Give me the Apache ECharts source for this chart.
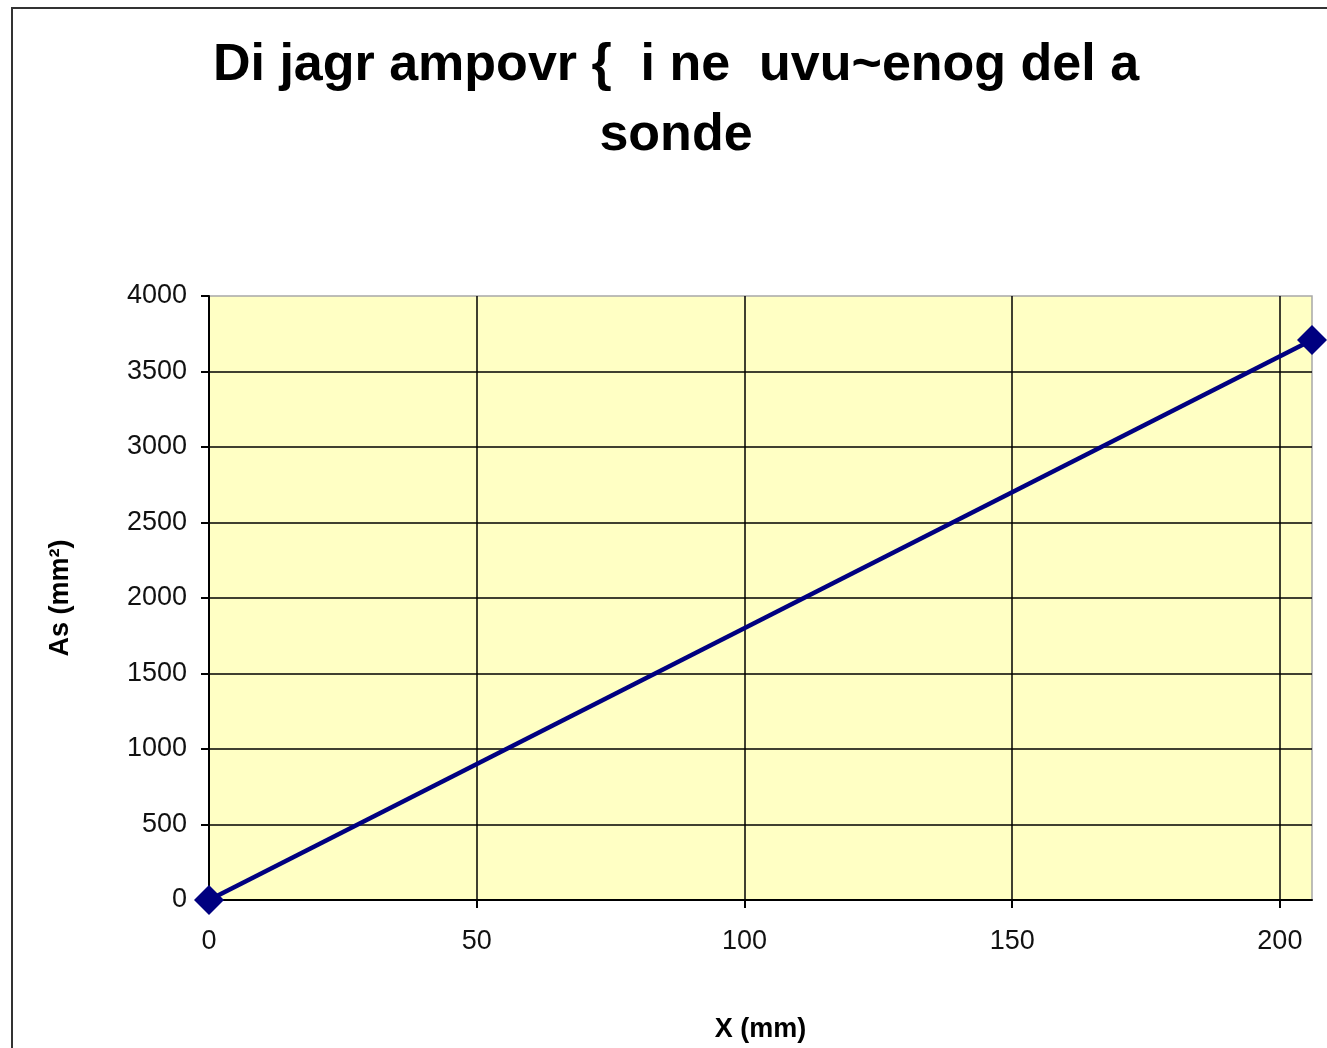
<!DOCTYPE html>
<html>
<head>
<meta charset="utf-8">
<script src="https://cdn.jsdelivr.net/npm/echarts@6/dist/echarts.min.js"></script>
<style>
html, body { margin: 0; padding: 0; background: #fff; }
#chart { width: 1327px; height: 1048px; }
</style>
</head>
<body>
<div id="chart"></div>
<script>
// podaci sa dijagrama
const xValues = [0, 206]
const asValues = [0, 3708]
const xTicks = [0, 50, 100, 150, 200]
const yTicks = [0, 500, 1000, 1500, 2000, 2500, 3000, 3500, 4000]
const titleText = 'Di jagr ampovr {  i ne  uvu~enog del a\nsonde'

const points = xValues.map((x, i) => [x, asValues[i]])

const chart = echarts.init(document.getElementById('chart'))
const option = {
    animation: false,
    backgroundColor: '#fff',
    graphic: [{
        type: 'rect',
        shape: { x: 12, y: 8, width: 1400, height: 1100 },
        style: { fill: 'none', stroke: '#333', lineWidth: 2 },
        silent: true
    }],
    title: {
        text: titleText,
        left: 671,
        top: 26,
        textAlign: 'center',
        textStyle: {
            fontFamily: 'Liberation Sans, Arial, sans-serif',
            fontSize: 52,
            fontWeight: 'bold',
            color: '#000',
            lineHeight: 70
        }
    },
    grid: {
        left: 209,
        top: 296,
        right: 15,
        bottom: 147,
        show: true,
        backgroundColor: '#FFFFC4',
        borderColor: '#a8a8a8',
        borderWidth: 1.5
    },
    xAxis: {
        type: 'value',
        min: 0,
        max: 206,
        interval: 50,
        name: 'X (mm)',
        nameLocation: 'middle',
        nameGap: 116,
        nameTextStyle: { fontFamily: 'Liberation Sans, Arial', fontSize: 27, fontWeight: 'bold', color: '#000' },
        axisLine: { show: true, lineStyle: { color: '#000', width: 2 } },
        axisTick: { show: true, length: 8, lineStyle: { color: '#000', width: 2 } },
        axisLabel: {
            margin: 28,
            fontFamily: 'Liberation Sans, Arial',
            fontSize: 27,
            color: '#111',
            showMaxLabel: false,
            formatter: v => (xTicks.includes(v) ? String(v) : '')
        },
        splitLine: { show: true, showMaxLine: false, lineStyle: { color: '#000', width: 1.5 } }
    },
    yAxis: {
        type: 'value',
        min: 0,
        max: 4000,
        interval: 500,
        name: 'As (mm²)',
        nameLocation: 'middle',
        nameGap: 135,
        nameTextStyle: { fontFamily: 'Liberation Sans, Arial', fontSize: 27, fontWeight: 'bold', color: '#000' },
        axisLine: { show: true, lineStyle: { color: '#000', width: 2 } },
        axisTick: { show: true, length: 8, lineStyle: { color: '#000', width: 2 } },
        axisLabel: {
            margin: 22,
            fontFamily: 'Liberation Sans, Arial',
            fontSize: 27,
            color: '#111',
            formatter: v => (yTicks.includes(v) ? String(v) : '')
        },
        splitLine: { show: true, showMaxLine: false, lineStyle: { color: '#000', width: 1.5 } }
    },
    series: [{
        type: 'line',
        data: points,
        clip: false,
        symbol: 'diamond',
        symbolSize: 30,
        itemStyle: { color: '#000080' },
        lineStyle: { color: '#000080', width: 4.5 }
    }]
}
chart.setOption(option)
</script>
</body>
</html>
